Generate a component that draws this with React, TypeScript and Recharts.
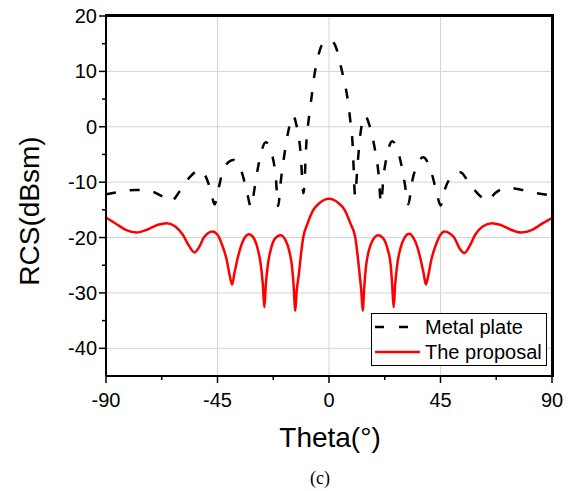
import { LineChart, Line, XAxis, YAxis, CartesianGrid, Legend } from 'recharts';

// Metal plate (dashed black)
const metalTheta = [
  -90, -84, -78, -72, -68, -64, -60, -56, -52, -49, -47.5, -46.2, -44.5, -42.5, -38.5, -35, -33,
  -31.5, -30, -28.5, -25.5, -23, -21.5, -20.5, -19.5, -18, -16.5, -14.5, -13, -11.5, -10.3, -9,
  -8, -7, -6, -4.5, -2.5, 0.5, 2.5, 5, 7.5, 8.5, 9.5, 10, 10.5, 11.5, 12.5, 14.5, 16.5, 18.5,
  20, 21, 22, 23.5, 25.5, 28.5, 30.5, 32, 33.5, 36, 38, 41.5, 43.5, 45, 47, 50, 53, 57, 61, 64,
  67, 72, 78, 84, 90,
];
const metalRcs = [
  -12.2, -11.7, -11.4, -11.6, -12.4, -13.5, -11.5, -9, -7.8, -9.8, -12, -14, -11, -7.5, -6, -8.5, -12,
  -14.5, -11, -7, -2.8, -5, -9, -14.3, -10, -5, -1, 2, 0, -4.5, -12, -2,
  2, 5.5, 9, 12.5, 15, 15.6, 14.7, 10.5, 5, 1.5, -3, -8, -12.5, -7, -2, 2, 0, -4,
  -8.5, -13.8, -9, -5, -2.6, -5.5, -10, -14, -10, -6.5, -5.5, -8.5, -12, -14.2, -11, -8.8, -8.2, -10.5, -12.5, -13.4,
  -12, -11, -11.4, -12, -12.4,
];

// The proposal (solid red)
const proposalTheta = [
  -90, -86, -82, -77.5, -73, -69, -65.5, -62, -59, -56.5, -54.3, -52.5, -50.5, -47, -45, -43, -41.3,
  -40, -39.1, -38.2, -37, -35.5, -34, -32.3, -30.5, -28.8, -27.5, -26.7, -26.1, -25.5, -24.7, -23.4,
  -21.8, -19.6, -17.5, -16, -15, -14.3, -13.6, -13.1, -12.1, -11.4, -10.4, -8.6, -6.3, -3.9, 0,
  3.9, 6.3, 8.6, 10.6, 11.6, 12.3, 13.1, 13.6, 14.3, 15, 16, 17.6, 19.9, 22, 23.6, 24.9, 25.5, 26.1,
  26.7, 27.5, 28.8, 30.5, 32.4, 34, 35.5, 37, 38.2, 39.1, 40, 41.3, 43, 45, 46.6, 50.5, 52.5, 54.6,
  56.8, 59, 62, 65.8, 69, 73, 77.4, 82, 86, 90,
];
const proposalRcs = [
  -16.4, -17.5, -18.6, -19.1, -18.5, -17.7, -17.4, -18, -19.5, -21.5, -22.7, -21.8, -20, -18.9, -19.5, -21.5, -24,
  -27, -28.5, -26.5, -24, -21.5, -20, -19.4, -20, -22, -25, -28.5, -32.6, -28.5, -25, -22,
  -20.2, -19.6, -20.5, -22.5, -25, -28.5, -33.2, -30, -26.4, -23.4, -20, -17.4, -15, -13.8, -13,
  -13.8, -15, -17.4, -20, -23.4, -26.4, -30, -33.2, -28.5, -25, -22.5, -20.5, -19.6, -20.2, -22, -25, -28.5, -32.6,
  -28.5, -25, -22, -20, -19.3, -20, -21.5, -24, -26.5, -28.5, -27, -24, -21.5, -19.5, -18.9, -20, -21.8, -22.8,
  -21.5, -19.5, -18, -17.4, -17.7, -18.5, -19.1, -18.6, -17.5, -16.5,
];

const xTicks = [-90, -67.5, -45, -22.5, 0, 22.5, 45, 67.5, 90];
const xMajor = [-90, -45, 0, 45, 90];
const yTicks = [-40, -35, -30, -25, -20, -15, -10, -5, 0, 5, 10, 15, 20];
const yMajor = [-40, -30, -20, -10, 0, 10, 20];
const xGrid = [-45, 0, 45];
const yGrid = [-40, -30, -20, -10, 0, 10];

const metalData = metalTheta.map((theta, i) => ({ theta, rcs: metalRcs[i] }));
const proposalData = proposalTheta.map((theta, i) => ({ theta, rcs: proposalRcs[i] }));

const FONT = '"Liberation Sans", Arial, sans-serif';

const XTick = (props: any) => {
  const { x, y, payload } = props;
  const major = xMajor.includes(payload.value);
  return (
    <g>
      <line x1={x} y1={y} x2={x} y2={y + (major ? 7 : 4)} stroke="#000" strokeWidth={1.5} />
      {major && (
        <text x={x} y={y + 31} textAnchor="middle" fontSize={20} fill="#000" fontFamily={FONT}>
          {payload.value}
        </text>
      )}
    </g>
  );
};

const YTick = (props: any) => {
  const { x, y, payload } = props;
  const major = yMajor.includes(payload.value);
  return (
    <g>
      <line x1={x} y1={y} x2={x - (major ? 7 : 4)} y2={y} stroke="#000" strokeWidth={1.5} />
      {major && (
        <text x={x - 9} y={y + 7} textAnchor="end" fontSize={20} fill="#000" fontFamily={FONT}>
          {payload.value}
        </text>
      )}
    </g>
  );
};

const LegendBox = () => (
  <div
    style={{
      width: 176,
      height: 53,
      boxSizing: 'border-box',
      border: '1px solid #000',
      background: '#fff',
      position: 'relative',
    }}
  >
    <svg width={176} height={53} style={{ position: 'absolute', left: 0, top: 0 }}>
      <line x1={3} y1={13} x2={48} y2={13} stroke="#000" strokeWidth={2.5} strokeDasharray="9 15" />
      <line x1={3} y1={38} x2={48} y2={38} stroke="#ff0000" strokeWidth={2.5} />
      <text x={53} y={20} fontSize={20} fontFamily={FONT} fill="#000">Metal plate</text>
      <text x={53} y={45} fontSize={20} fontFamily={FONT} fill="#000">The proposal</text>
    </svg>
  </div>
);

export default function App() {
  return (
    <div style={{ position: 'relative', width: 571, height: 491, background: '#fff' }}>
      <style>{'body{margin:0}'}</style>
      <LineChart width={571} height={491} margin={{ top: 16, right: 19, left: 46, bottom: 75 }}>
        <CartesianGrid
          horizontalValues={yGrid}
          verticalValues={xGrid}
          stroke="#d4d4d4"
          strokeWidth={1}
          fill="none"
        />
        <XAxis
          dataKey="theta"
          type="number"
          domain={[-90, 90]}
          ticks={xTicks}
          interval={0}
          height={40}
          tickSize={0}
          tickMargin={0}
          tickLine={false}
          tick={XTick}
          axisLine={{ stroke: '#000', strokeWidth: 2 }}
          allowDataOverflow
        />
        <YAxis
          type="number"
          domain={[-45, 20]}
          ticks={yTicks}
          interval={0}
          width={60}
          tickSize={0}
          tickMargin={0}
          tickLine={false}
          tick={YTick}
          axisLine={{ stroke: '#000', strokeWidth: 2 }}
          allowDataOverflow
        />
        <Line
          data={metalData}
          dataKey="rcs"
          name="Metal plate"
          type="monotone"
          stroke="#000"
          strokeWidth={2.5}
          strokeDasharray="10 14"
          dot={false}
          isAnimationActive={false}
        />
        <Line
          data={proposalData}
          dataKey="rcs"
          name="The proposal"
          type="monotone"
          stroke="#ff0000"
          strokeWidth={2.5}
          dot={false}
          isAnimationActive={false}
        />
        <Legend
          layout="horizontal"
          align="center"
          verticalAlign="middle"
          wrapperStyle={{ left: 371, top: 313, width: 176, height: 53 }}
          content={() => <LegendBox />}
        />
      </LineChart>
      {/* top and right frame of the plot box */}
      <div
        style={{
          position: 'absolute',
          left: 105,
          top: 14,
          width: 449,
          height: 3,
          background: '#000',
          zIndex: 10,
        }}
      />
      <div
        style={{
          position: 'absolute',
          left: 551,
          top: 14,
          width: 3,
          height: 363,
          background: '#000',
          zIndex: 10,
        }}
      />
      <div
        style={{
          position: 'absolute',
          left: 30,
          top: 211,
          transform: 'translate(-50%, -50%) rotate(-90deg)',
          whiteSpace: 'nowrap',
          fontFamily: FONT,
          fontSize: 28,
          color: '#000',
        }}
      >
        RCS(dBsm)
      </div>
      <div
        style={{
          position: 'absolute',
          left: 330,
          top: 438,
          transform: 'translate(-50%, -50%)',
          whiteSpace: 'nowrap',
          fontFamily: FONT,
          fontSize: 28,
          color: '#000',
        }}
      >
        Theta(°)
      </div>
      <div
        style={{
          position: 'absolute',
          left: 320,
          top: 478,
          transform: 'translate(-50%, -50%)',
          whiteSpace: 'nowrap',
          fontFamily: '"Liberation Serif", "Times New Roman", serif',
          fontSize: 18,
          color: '#000',
        }}
      >
        (c)
      </div>
    </div>
  );
}
